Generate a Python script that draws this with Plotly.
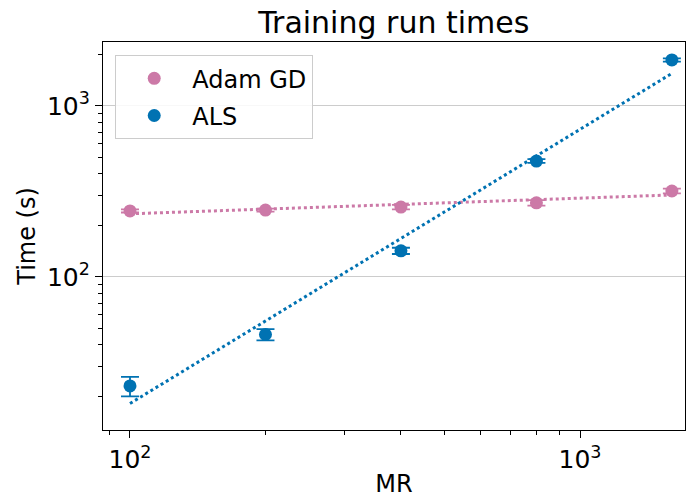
import numpy as np
import plotly.graph_objects as go

# Model size (MR) and measured training times in seconds
mr = [100, 200, 400, 800, 1600]
adam_time = [243, 246, 256, 271, 318]
adam_err = [5, 5, 8, 10, 10]
als_time = [23, 46, 142, 476, 1858]
als_err = [3, 3.5, 6, 12, 40]

ADAM_COLOR = "#CC79A7"
ALS_COLOR = "#0072B2"


def power_fit(x, y):
    """Least-squares power-law fit in log-log space."""
    lx, ly = np.log10(x), np.log10(y)
    slope, intercept = np.polyfit(lx, ly, 1)
    return [10 ** (intercept + slope * v) for v in lx]


fig = go.Figure()

# dotted power-law fits
fig.add_trace(go.Scatter(x=mr, y=power_fit(mr, adam_time), mode="lines",
                         line=dict(color=ADAM_COLOR, width=3, dash="dot"),
                         showlegend=False, hoverinfo="skip"))
fig.add_trace(go.Scatter(x=mr, y=power_fit(mr, als_time), mode="lines",
                         line=dict(color=ALS_COLOR, width=3, dash="dot"),
                         showlegend=False, hoverinfo="skip"))

# measured points with error bars
fig.add_trace(go.Scatter(x=mr, y=adam_time, mode="markers", name="Adam GD",
                         legendgroup="adam",
                         marker=dict(color=ADAM_COLOR, size=13),
                         error_y=dict(type="data", array=adam_err, color=ADAM_COLOR,
                                      thickness=1.8, width=9)))
fig.add_trace(go.Scatter(x=mr, y=als_time, mode="markers", name="ALS",
                         legendgroup="als",
                         marker=dict(color=ALS_COLOR, size=13),
                         error_y=dict(type="data", array=als_err, color=ALS_COLOR,
                                      thickness=1.8, width=9)))

x_minor = [m * 10 ** d for d in (1, 2, 3) for m in range(2, 10)]
y_minor = [m * 10 ** d for d in (1, 2, 3) for m in range(2, 10)]

fig.update_layout(
    width=686, height=498,
    margin=dict(l=103, r=1, t=42, b=68),
    paper_bgcolor="white", plot_bgcolor="white",
    font=dict(family="DejaVu Sans", size=24, color="black"),
    title=dict(text="Training run times", x=0.574, xanchor="center",
               y=0.955, yanchor="middle", font=dict(size=30)),
    legend=dict(x=0.021, y=0.966, xanchor="left", yanchor="top",
                bgcolor="rgba(255,255,255,0.85)", bordercolor="#cccccc",
                borderwidth=1, font=dict(size=24), itemsizing="trace",
                itemwidth=66, tracegroupgap=3),
    xaxis=dict(type="log", range=[np.log10(87.1), np.log10(1711)],
               title=dict(text="MR", standoff=6, font=dict(size=24)),
               tickvals=[100, 1000], ticktext=["10<sup>2</sup>", "10<sup>3</sup>"],
               tickfont=dict(size=25),
               ticks="outside", ticklen=7, tickwidth=1.2, tickcolor="black",
               showgrid=False, showline=True, linecolor="black", linewidth=1.2,
               mirror=True, zeroline=False,
               minor=dict(tickvals=x_minor, ticks="outside", ticklen=4,
                          tickcolor="black", showgrid=False)),
    yaxis=dict(type="log", range=[np.log10(12.7), np.log10(2367)],
               title=dict(text="Time (s)", standoff=4, font=dict(size=24)),
               tickvals=[100, 1000], ticktext=["10<sup>2</sup>", "10<sup>3</sup>"],
               tickfont=dict(size=25),
               ticks="outside", ticklen=7, tickwidth=1.2, tickcolor="black",
               showgrid=True, gridcolor="#cccccc", gridwidth=1.2,
               showline=True, linecolor="black", linewidth=1.2,
               mirror=True, zeroline=False,
               minor=dict(tickvals=y_minor, ticks="outside", ticklen=4,
                          tickcolor="black", showgrid=False)),
)

fig.write_html("out.html")
